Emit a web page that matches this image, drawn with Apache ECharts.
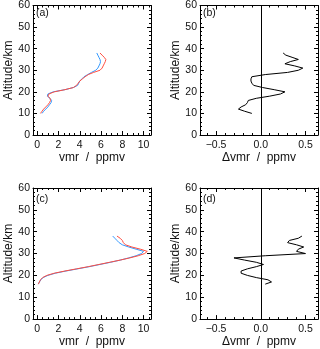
<!DOCTYPE html>
<html>
<head>
<meta charset="utf-8">
<script src="https://cdn.jsdelivr.net/npm/echarts@6/dist/echarts.min.js"></script>
<style>
  html, body { margin: 0; padding: 0; background: #fff; }
  #chart { width: 320px; height: 349px; }
</style>
</head>
<body>
<div id="chart"></div>
<script>
// altitude levels, km
const altA = [10, 11, 12, 13, 14, 15, 16, 17, 18, 19, 20, 21, 22, 23, 24, 25, 26, 27, 28, 29, 30, 31, 32, 33, 34, 35, 36, 37, 38];
const altC = [16, 17, 18, 19, 20, 21, 22, 23, 24, 25, 26, 27, 28, 29, 30, 31, 32, 33, 34, 35, 36, 37, 38];

// panel (a) vmr profiles, ppmv
const redA  = [0.3, 0.45, 0.6, 0.8, 1.0, 1.15, 1.25, 1.2, 1.0, 1.1, 1.6, 2.6, 3.4, 3.7, 3.85, 4.0, 4.25, 4.5, 4.8, 5.3, 5.9, 6.1, 6.2, 6.3, 6.4, 6.45, 6.3, 6.1, 5.9];
const blueA = [0.45, 0.6, 0.8, 1.0, 1.15, 1.3, 1.35, 1.2, 0.95, 1.0, 1.5, 2.6, 3.4, 3.8, 3.9, 4.0, 4.2, 4.4, 4.75, 5.1, 5.5, 5.7, 5.8, 5.9, 5.95, 5.9, 5.8, 5.7, 5.6];
// panel (b) difference, ppmv
const diffB = [-0.10, -0.18, -0.25, -0.22, -0.17, -0.15, -0.14, -0.05, 0.10, 0.22, 0.27, 0.15, 0.02, -0.08, -0.10, -0.11, -0.11, -0.10, 0.05, 0.30, 0.42, 0.47, 0.38, 0.27, 0.33, 0.42, 0.35, 0.28, 0.25];

// panel (c) vmr profiles, ppmv
const redC  = [0.1, 0.2, 0.3, 0.5, 0.9, 1.6, 2.6, 3.7, 4.8, 5.8, 6.8, 7.8, 8.7, 9.5, 10.1, 10.35, 9.7, 8.9, 8.3, 8.1, 8.0, 7.8, 7.5];
const blueC = [0.1, 0.2, 0.35, 0.55, 1.0, 1.7, 2.7, 3.8, 4.9, 5.9, 6.9, 7.8, 8.6, 9.3, 9.8, 10.0, 9.3, 8.6, 8.0, 7.7, 7.5, 7.3, 7.1];
// panel (d) difference, ppmv
const diffD = [0.05, 0.12, 0.08, -0.05, -0.15, -0.22, -0.22, -0.15, -0.05, 0.03, -0.05, -0.18, -0.30, 0.05, 0.50, 0.40, 0.42, 0.48, 0.40, 0.30, 0.32, 0.42, 0.46];

// tick labels
const vmrTicks = [0, 2, 4, 6, 8, 10];
const dvmrTicks = [-0.5, 0.0, 0.5];

const FONT = 'Liberation Sans, Arial, sans-serif';
const INK = '#111';

function pairs(xs, ys) {
    const out = [];
    for (let i = 0; i < xs.length; i++) out.push([xs[i], ys[i]]);
    return out;
}

function minorOf(ticks, parts) {
    const step = (ticks[1] - ticks[0]) / parts;
    const out = [];
    for (let t = ticks[0] - step * parts; t <= ticks[ticks.length - 1] + step * parts + 1e-9; t += step) {
        out.push(Math.round(t * 1000) / 1000);
    }
    return out;
}

function fmtDiff(v) {
    if (Math.abs(v) < 1e-9) return '0.0';
    return (v < 0 ? '\u22120.' : '0.') + String(Math.round(Math.abs(v) * 10));
}

const lineStyle = { color: '#000', width: 1 };

function xAxesFor(grid, min, max, major, minor, name, fmt, gap) {
    const axes = [];
    ['bottom', 'top'].forEach(function(pos) {
        const main = pos === 'bottom';
        axes.push({
            gridIndex: grid, type: 'value', position: pos, min: min, max: max,
            name: main ? name : '', nameLocation: 'middle', nameGap: gap,
            nameTextStyle: { fontFamily: FONT, fontSize: 12, color: INK },
            axisLine: { show: true, onZero: false, lineStyle: lineStyle },
            axisTick: { show: true, inside: true, length: 4, customValues: major, lineStyle: lineStyle },
            axisLabel: { show: main, customValues: major, formatter: fmt, margin: 5, fontFamily: FONT, fontSize: 10.5, color: INK },
            splitLine: { show: false }
        });
        axes.push({
            gridIndex: grid, type: 'value', position: pos, min: min, max: max,
            axisLine: { show: false, onZero: false },
            axisTick: { show: true, inside: true, length: 2, customValues: minor, lineStyle: lineStyle },
            axisLabel: { show: false },
            splitLine: { show: false }
        });
    });
    return axes;
}

function yAxesFor(grid, gap) {
    return [{
        gridIndex: grid, type: 'value', position: 'left', min: 0, max: 60, interval: 10,
        name: 'Altitude/km', nameLocation: 'middle', nameGap: gap,
        nameTextStyle: { fontFamily: FONT, fontSize: 12, color: INK },
        axisLine: { show: true, onZero: false, lineStyle: lineStyle },
        axisTick: { show: true, inside: true, length: 4, lineStyle: lineStyle },
        minorTick: { show: true, splitNumber: 5, length: 2, lineStyle: lineStyle },
        axisLabel: { margin: 3, fontFamily: FONT, fontSize: 10.5, color: INK },
        splitLine: { show: false }
    }, {
        gridIndex: grid, type: 'value', position: 'right', min: 0, max: 60, interval: 10,
        axisLine: { show: true, onZero: false, lineStyle: lineStyle },
        axisTick: { show: true, inside: true, length: 4, lineStyle: lineStyle },
        minorTick: { show: true, splitNumber: 5, length: 2, lineStyle: lineStyle },
        axisLabel: { show: false },
        splitLine: { show: false }
    }];
}

const grids = [
    { left: 33, top: 2, width: 118, height: 133 },
    { left: 200, top: 2, width: 118, height: 133 },
    { left: 33, top: 188, width: 118, height: 134 },
    { left: 200, top: 188, width: 118, height: 134 }
];

const xAxes = [].concat(
    xAxesFor(0, -0.4, 10.7, vmrTicks, minorOf(vmrTicks, 4), 'vmr  /  ppmv', String, 16),
    xAxesFor(1, -0.68, 0.64, dvmrTicks, minorOf(dvmrTicks, 5), '\u0394vmr  /  ppmv', fmtDiff, 16),
    xAxesFor(2, -0.4, 10.7, vmrTicks, minorOf(vmrTicks, 4), 'vmr  /  ppmv', String, 15),
    xAxesFor(3, -0.68, 0.64, dvmrTicks, minorOf(dvmrTicks, 5), '\u0394vmr  /  ppmv', fmtDiff, 15)
);
const yAxes = [].concat(yAxesFor(0, 18), yAxesFor(1, 14), yAxesFor(2, 18), yAxesFor(3, 14));

function profile(name, grid, xs, ys, color) {
    return {
        name: name, type: 'line', xAxisIndex: grid * 4, yAxisIndex: grid * 2,
        data: pairs(xs, ys), symbol: 'none', showSymbol: false,
        lineStyle: { color: color, width: 1 }, silent: true
    };
}

function diffSeries(name, grid, xs, ys) {
    const s = profile(name, grid, xs, ys, '#000');
    s.markLine = {
        silent: true, symbol: ['none', 'none'], label: { show: false },
        lineStyle: { color: '#000', type: 'solid', width: 1 },
        data: [{ xAxis: 0 }]
    };
    return s;
}

const panelLabels = ['(a)', '(b)', '(c)', '(d)'];
const titles = panelLabels.map(function(t, i) {
    return {
        text: t, left: grids[i].left + 3, top: grids[i].top + 6, padding: 0,
        textStyle: { fontFamily: FONT, fontSize: 10.5, fontWeight: 'normal', color: INK }
    };
});

const chart = echarts.init(document.getElementById('chart'), null, { renderer: 'canvas' });
chart.setOption({
    animation: false,
    backgroundColor: '#fff',
    title: titles,
    grid: grids,
    xAxis: xAxes,
    yAxis: yAxes,
    series: [
        profile('blue a', 0, blueA, altA, '#3399ff'),
        profile('red a', 0, redA, altA, '#ff4d40'),
        diffSeries('diff b', 1, diffB, altA),
        profile('blue c', 2, blueC, altC, '#3399ff'),
        profile('red c', 2, redC, altC, '#ff4d40'),
        diffSeries('diff d', 3, diffD, altC)
    ]
});
</script>
</body>
</html>
